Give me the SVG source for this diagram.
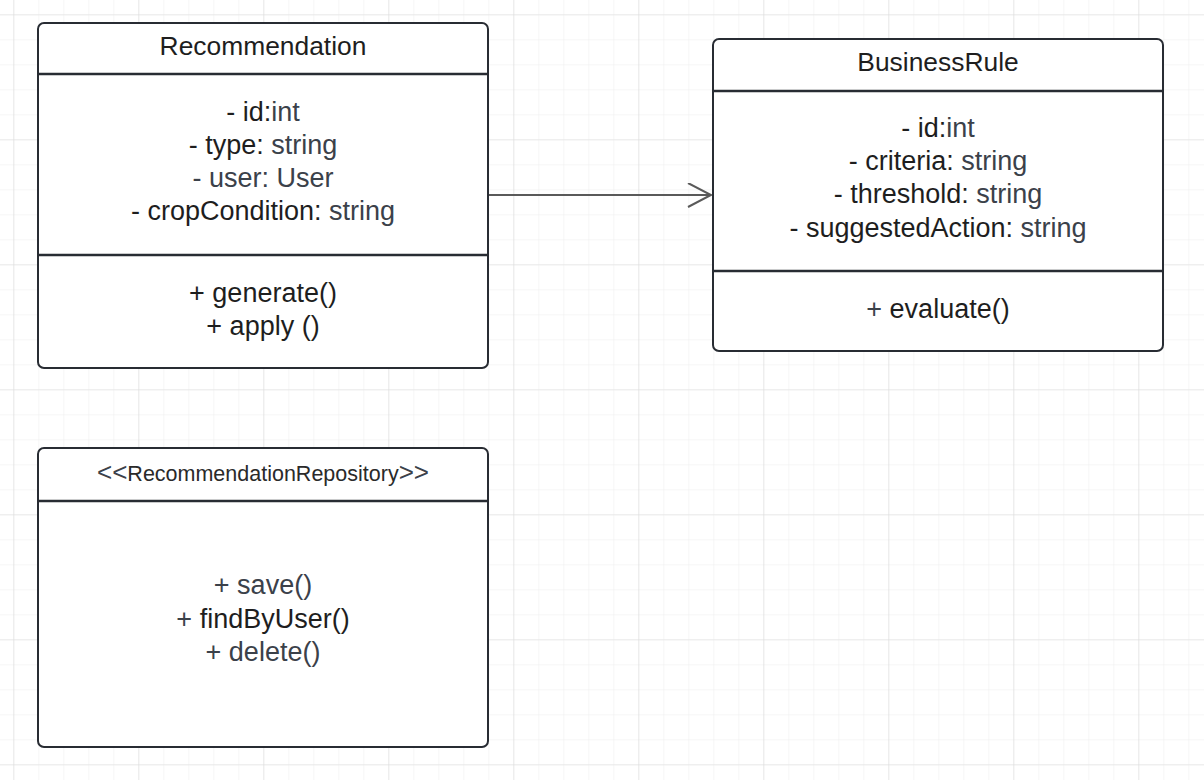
<svg xmlns="http://www.w3.org/2000/svg" width="1204" height="780" viewBox="0 0 1204 780">
  <defs>
    <pattern id="minor" width="25" height="25" patternUnits="userSpaceOnUse" x="13.3" y="14.3">
      <path d="M 0 0 L 25 0 M 0 0 L 0 25" fill="none" stroke="#ededed" stroke-width="1"/>
    </pattern>
    <pattern id="major" width="125" height="125" patternUnits="userSpaceOnUse" x="13.3" y="14.3">
      <path d="M 0 0 L 125 0 M 0 0 L 0 125" fill="none" stroke="#dedede" stroke-width="1.2"/>
    </pattern>
    <marker id="open-arrow" markerWidth="30" markerHeight="30" refX="24" refY="12.5" orient="auto" markerUnits="userSpaceOnUse">
      <path d="M 1 0.5 L 24 12.5 L 1 24.5" fill="none" stroke="#5a5a5a" stroke-width="2"/>
    </marker>
  </defs>
  <style>
    .box { fill: #ffffff; stroke: #282c33; stroke-width: 2; }
    .sep { stroke: #282c33; stroke-width: 2.5; }
    .t { font-family: "Liberation Sans", Arial, sans-serif; text-anchor: middle; fill: #1e1e1e; }
    .title { font-size: 26.4px; }
    .member { font-size: 27px; }
    .stereo { font-size: 21.5px; fill: #2a2a2a; }
    .guil { font-size: 26px; }
    .g { fill: #3b414a; }
    .edge { fill: none; stroke: #5a5a5a; stroke-width: 2.2; }
  </style>

  <rect width="1204" height="780" fill="#ffffff"/>
  <rect width="1204" height="780" fill="url(#minor)"/>
  <rect width="1204" height="780" fill="url(#major)"/>

  <g id="connectors">
    <line class="edge" x1="488" y1="195" x2="711" y2="195" marker-end="url(#open-arrow)"/>
  </g>

  <g id="Recommendation">
    <rect class="box" x="38" y="23" width="450" height="345" rx="6"/>
    <line class="sep" x1="38" y1="74" x2="488" y2="74"/>
    <line class="sep" x1="38" y1="255" x2="488" y2="255"/>
    <text class="t title" x="263" y="55">Recommendation</text>
    <text class="t member" x="263" y="121">- id:<tspan class="g">int</tspan></text>
    <text class="t member" x="263" y="154">- type: <tspan class="g">string</tspan></text>
    <text class="t member g" x="263" y="187">- user: User</text>
    <text class="t member" x="263" y="220">- cropCondition: <tspan class="g">string</tspan></text>
    <text class="t member" x="263" y="302">+ generate()</text>
    <text class="t member" x="263" y="335">+ apply ()</text>
  </g>

  <g id="BusinessRule">
    <rect class="box" x="713" y="39" width="450" height="312" rx="6"/>
    <line class="sep" x1="713" y1="91" x2="1163" y2="91"/>
    <line class="sep" x1="713" y1="271" x2="1163" y2="271"/>
    <text class="t title" x="938" y="71">BusinessRule</text>
    <text class="t member" x="938" y="137">- id:<tspan class="g">int</tspan></text>
    <text class="t member" x="938" y="170">- criteria: <tspan class="g">string</tspan></text>
    <text class="t member" x="938" y="203">- threshold: <tspan class="g">string</tspan></text>
    <text class="t member" x="938" y="237">- suggestedAction: <tspan class="g">string</tspan></text>
    <text class="t member" x="938" y="318"><tspan class="g">+</tspan> evaluate()</text>
  </g>

  <g id="RecommendationRepository">
    <rect class="box" x="38" y="448" width="450" height="299" rx="6"/>
    <line class="sep" x1="38" y1="501" x2="488" y2="501"/>
    <text class="t stereo" x="263" y="481"><tspan class="g guil">&lt;&lt;</tspan>RecommendationRepository<tspan class="g guil">&gt;&gt;</tspan></text>
    <text class="t member g" x="263" y="594">+ save()</text>
    <text class="t member" x="263" y="628"><tspan class="g">+</tspan> findByUser()</text>
    <text class="t member g" x="263" y="661">+ delete()</text>
  </g>
</svg>
